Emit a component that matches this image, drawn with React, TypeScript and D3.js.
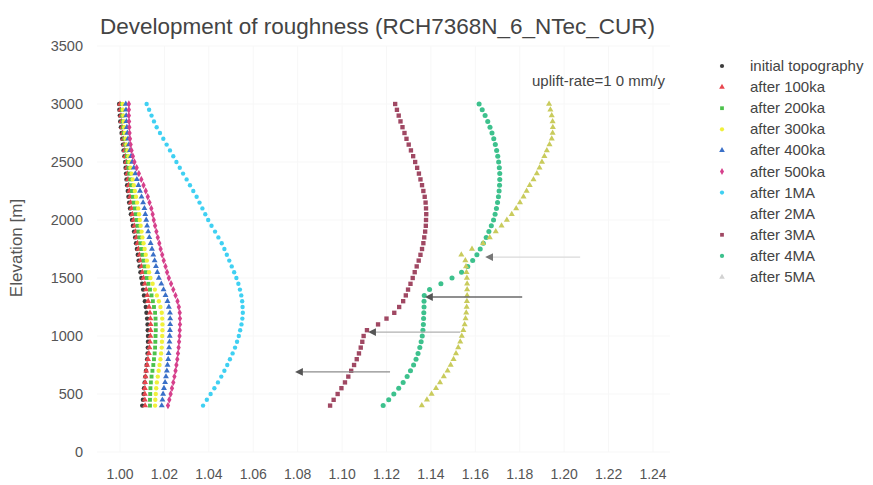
import React from 'react'
import * as d3 from 'd3'

// elevation levels of the profile [m]
const elevations = [
  400, 450, 500, 550, 600, 650, 700, 750, 800, 850, 900, 950, 1000, 1050, 1100, 1150, 1200, 1250,
  1300, 1350, 1400, 1450, 1500, 1550, 1600, 1650, 1700, 1750, 1800, 1850, 1900, 1950, 2000, 2050,
  2100, 2150, 2200, 2250, 2300, 2350, 2400, 2450, 2500, 2550, 2600, 2650, 2700, 2750, 2800, 2850,
  2900, 2950, 3000,
]

const initialTopo = [
  1.0100, 1.0103, 1.0106, 1.0108, 1.0111, 1.0114, 1.0117, 1.0120, 1.0122, 1.0124,
  1.0125, 1.0126, 1.0126, 1.0125, 1.0124, 1.0122, 1.0119, 1.0116, 1.0112, 1.0108,
  1.0104, 1.0100, 1.0096, 1.0092, 1.0088, 1.0084, 1.0080, 1.0076, 1.0072, 1.0068,
  1.0063, 1.0058, 1.0054, 1.0049, 1.0045, 1.0041, 1.0038, 1.0035, 1.0032, 1.0029,
  1.0027, 1.0025, 1.0023, 1.0020, 1.0016, 1.0013, 1.0010, 1.0007, 1.0004, 1.0001,
  0.9999, 0.9997, 0.9996,
]
const after100ka = [
  1.0113, 1.0112, 1.0112, 1.0112, 1.0113, 1.0115, 1.0118, 1.0122, 1.0126, 1.0130,
  1.0133, 1.0135, 1.0137, 1.0138, 1.0138, 1.0137, 1.0135, 1.0131, 1.0127, 1.0123,
  1.0118, 1.0112, 1.0106, 1.0101, 1.0097, 1.0092, 1.0088, 1.0083, 1.0079, 1.0074,
  1.0070, 1.0065, 1.0061, 1.0056, 1.0052, 1.0048, 1.0045, 1.0042, 1.0039, 1.0036,
  1.0033, 1.0030, 1.0028, 1.0024, 1.0021, 1.0018, 1.0015, 1.0012, 1.0009, 1.0006,
  1.0004, 1.0002, 1.0000,
]
const after200ka = [
  1.0135, 1.0135, 1.0136, 1.0137, 1.0139, 1.0142, 1.0146, 1.0150, 1.0153, 1.0156,
  1.0158, 1.0159, 1.0160, 1.0161, 1.0161, 1.0160, 1.0158, 1.0153, 1.0148, 1.0142,
  1.0135, 1.0128, 1.0121, 1.0116, 1.0111, 1.0106, 1.0101, 1.0096, 1.0092, 1.0087,
  1.0083, 1.0079, 1.0075, 1.0071, 1.0067, 1.0062, 1.0058, 1.0054, 1.0050, 1.0046,
  1.0042, 1.0038, 1.0035, 1.0031, 1.0028, 1.0024, 1.0020, 1.0017, 1.0014, 1.0012,
  1.0010, 1.0009, 1.0008,
]
const after300ka = [
  1.0158, 1.0159, 1.0161, 1.0163, 1.0166, 1.0170, 1.0174, 1.0178, 1.0182, 1.0185,
  1.0188, 1.0189, 1.0190, 1.0191, 1.0191, 1.0190, 1.0188, 1.0182, 1.0175, 1.0166,
  1.0157, 1.0147, 1.0137, 1.0131, 1.0126, 1.0121, 1.0116, 1.0111, 1.0106, 1.0101,
  1.0097, 1.0093, 1.0089, 1.0086, 1.0082, 1.0077, 1.0072, 1.0067, 1.0062, 1.0057,
  1.0052, 1.0047, 1.0042, 1.0038, 1.0034, 1.0029, 1.0025, 1.0022, 1.0019, 1.0017,
  1.0015, 1.0013, 1.0012,
]
const after400ka = [
  1.0188, 1.0191, 1.0194, 1.0198, 1.0203, 1.0207, 1.0211, 1.0214, 1.0217, 1.0219,
  1.0221, 1.0223, 1.0224, 1.0225, 1.0226, 1.0226, 1.0225, 1.0220, 1.0214, 1.0205,
  1.0196, 1.0186, 1.0175, 1.0168, 1.0162, 1.0156, 1.0150, 1.0144, 1.0138, 1.0132,
  1.0127, 1.0122, 1.0118, 1.0114, 1.0110, 1.0104, 1.0097, 1.0090, 1.0083, 1.0076,
  1.0069, 1.0062, 1.0055, 1.0050, 1.0045, 1.0040, 1.0036, 1.0033, 1.0031, 1.0029,
  1.0028, 1.0027, 1.0026,
]
const after500ka = [
  1.0216, 1.0222, 1.0228, 1.0234, 1.0240, 1.0245, 1.0250, 1.0254, 1.0258, 1.0261,
  1.0264, 1.0266, 1.0268, 1.0269, 1.0270, 1.0270, 1.0269, 1.0265, 1.0259, 1.0250,
  1.0240, 1.0230, 1.0220, 1.0212, 1.0205, 1.0197, 1.0190, 1.0183, 1.0177, 1.0170,
  1.0164, 1.0158, 1.0152, 1.0147, 1.0141, 1.0133, 1.0125, 1.0116, 1.0106, 1.0096,
  1.0085, 1.0075, 1.0065, 1.0058, 1.0052, 1.0048, 1.0045, 1.0043, 1.0042, 1.0041,
  1.0040, 1.0040, 1.0040,
]
const after1MA = [
  1.0374, 1.0391, 1.0408, 1.0425, 1.0441, 1.0456, 1.0470, 1.0483, 1.0495, 1.0507,
  1.0518, 1.0527, 1.0535, 1.0541, 1.0547, 1.0551, 1.0553, 1.0552, 1.0550, 1.0546,
  1.0540, 1.0533, 1.0524, 1.0514, 1.0503, 1.0492, 1.0481, 1.0470, 1.0458, 1.0443,
  1.0428, 1.0412, 1.0397, 1.0384, 1.0371, 1.0358, 1.0345, 1.0330, 1.0315, 1.0300,
  1.0284, 1.0269, 1.0254, 1.0240, 1.0225, 1.0210, 1.0195, 1.0180, 1.0165, 1.0153,
  1.0142, 1.0131, 1.0120,
]
const after2MA: number[] = []
const after3MA = [
  1.0946, 1.0962, 1.0980, 1.0997, 1.1013, 1.1028, 1.1041, 1.1054, 1.1066, 1.1076,
  1.1084, 1.1091, 1.1097, 1.1112, 1.1162, 1.1200, 1.1235, 1.1257, 1.1275, 1.1287,
  1.1297, 1.1308, 1.1318, 1.1327, 1.1336, 1.1345, 1.1353, 1.1360, 1.1366, 1.1370,
  1.1374, 1.1377, 1.1378, 1.1379, 1.1378, 1.1376, 1.1372, 1.1366, 1.1360, 1.1353,
  1.1346, 1.1338, 1.1329, 1.1320, 1.1310, 1.1300, 1.1290, 1.1281, 1.1272, 1.1263,
  1.1255, 1.1247, 1.1239,
]
const after4MA = [
  1.1185, 1.1210, 1.1233, 1.1255, 1.1275, 1.1293, 1.1308, 1.1322, 1.1333, 1.1342,
  1.1350, 1.1356, 1.1361, 1.1364, 1.1366, 1.1367, 1.1368, 1.1369, 1.1369, 1.1370,
  1.1394, 1.1445, 1.1495, 1.1538, 1.1566, 1.1588, 1.1607, 1.1622, 1.1636, 1.1649,
  1.1661, 1.1672, 1.1682, 1.1689, 1.1695, 1.1700, 1.1704, 1.1707, 1.1709, 1.1710,
  1.1710, 1.1708, 1.1705, 1.1701, 1.1696, 1.1690, 1.1683, 1.1675, 1.1666, 1.1656,
  1.1644, 1.1631, 1.1617,
]
const after5MA = [
  1.1359, 1.1382, 1.1403, 1.1423, 1.1441, 1.1458, 1.1475, 1.1489, 1.1502, 1.1513,
  1.1523, 1.1532, 1.1539, 1.1546, 1.1552, 1.1556, 1.1559, 1.1561, 1.1562, 1.1563,
  1.1563, 1.1563, 1.1562, 1.1560, 1.1558, 1.1555, 1.1537, 1.1585, 1.1635, 1.1665,
  1.1692, 1.1718, 1.1742, 1.1764, 1.1784, 1.1801, 1.1817, 1.1831, 1.1845, 1.1862,
  1.1877, 1.1889, 1.1900, 1.1911, 1.1922, 1.1934, 1.1944, 1.1948, 1.1949, 1.1948,
  1.1944, 1.1938, 1.1932,
]

const seriesNames = [
  'initial topography', 'after 100ka', 'after 200ka', 'after 300ka', 'after 400ka',
  'after 500ka', 'after 1MA', 'after 2MA', 'after 3MA', 'after 4MA', 'after 5MA',
]
const seriesValues = [
  initialTopo, after100ka, after200ka, after300ka, after400ka,
  after500ka, after1MA, after2MA, after3MA, after4MA, after5MA,
]
const seriesColors = [
  '#3c3c3c', '#e8474f', '#4cc24c', '#f0f03a', '#3a70c8',
  '#d6408c', '#3fd0f2', '#ffffff', '#a04863', '#3dc18d', '#c9cb5c',
]
const legendColors = [
  '#3c3c3c', '#e8474f', '#4cc24c', '#f0f03a', '#3a70c8',
  '#d6408c', '#3fd0f2', '#ffffff', '#a04863', '#3dc18d', '#d2d2d2',
]
const seriesSymbols = [
  d3.symbolCircle, d3.symbolTriangle, d3.symbolSquare, d3.symbolCircle, d3.symbolTriangle,
  d3.symbolDiamond, d3.symbolCircle, d3.symbolCircle, d3.symbolSquare, d3.symbolCircle, d3.symbolTriangle,
]
const seriesSizes = [15, 15, 15, 15, 15, 16, 15, 15, 19, 20, 16]

const xTicks = [1.0, 1.02, 1.04, 1.06, 1.08, 1.1, 1.12, 1.14, 1.16, 1.18, 1.2, 1.22, 1.24]
const yTicks = [0, 500, 1000, 1500, 2000, 2500, 3000, 3500]

// annotation arrows pointing left at the kinks
const arrowFrom = [1.2072, 1.1811, 1.1532, 1.1216]
const arrowTo = [1.1676, 1.1405, 1.1149, 1.0820]
const arrowElev = [1680, 1336, 1034, 690]
const arrowColors = ['#dadada', '#6a6a6a', '#b0b0b0', '#8c8c8c']

const font = 'Liberation Sans, Arial, sans-serif'

export default function App() {
  const x = d3.scaleLinear().domain([1.0, 1.24]).range([120, 653])
  const y = d3.scaleLinear().domain([0, 3500]).range([452, 46])

  return (
    <svg width={873} height={485} style={{ position: 'absolute', left: 0, top: 0, background: '#fff' }} fontFamily={font}>
      <defs>
        {arrowColors.map((c, i) => (
          <marker key={i} id={`ah${i}`} viewBox="0 0 10 10" refX="1" refY="5" markerWidth="6" markerHeight="6" orient="auto-start-reverse">
            <path d="M0,0 L10,5 L0,10 z" fill={i === 0 ? '#777' : '#555'} />
          </marker>
        ))}
      </defs>

      {/* faint grid */}
      {xTicks.map((t) => (
        <line key={`gx${t}`} x1={x(t)} x2={x(t)} y1={y(3500)} y2={y(0)} stroke="#f7f7f7" />
      ))}
      {yTicks.map((t) => (
        <line key={`gy${t}`} x1={97} x2={670} y1={y(t)} y2={y(t)} stroke="#f7f7f7" />
      ))}

      <text x={100} y={34} fontSize={21.5} fill="#444" textLength={555} lengthAdjust="spacingAndGlyphs">
        Development of roughness (RCH7368N_6_NTec_CUR)
      </text>
      <text x={665} y={86} fontSize={15} fill="#444" textAnchor="end">uplift-rate=1 0 mm/y</text>

      {yTicks.map((t) => (
        <text key={`yt${t}`} x={83} y={y(t) + 5} fontSize={14.5} fill="#555" textAnchor="end">{t}</text>
      ))}
      {xTicks.map((t) => (
        <text key={`xt${t}`} x={x(t)} y={479} fontSize={14} fill="#555" textAnchor="middle">{t.toFixed(2)}</text>
      ))}
      <text transform={`translate(22,248) rotate(-90)`} fontSize={17} fill="#555" textAnchor="middle">Elevation [m]</text>

      {seriesValues.map((vals, si) => {
        const p = d3.symbol().type(seriesSymbols[si]).size(seriesSizes[si])() as string
        return (
          <g key={seriesNames[si]} fill={seriesColors[si]}>
            {vals.map((v, i) => (
              <path key={i} d={p} transform={`translate(${x(v)},${y(elevations[i])})`} />
            ))}
          </g>
        )
      })}

      {arrowFrom.map((a, i) => (
        <line key={`ar${i}`} x1={x(a)} x2={x(arrowTo[i])} y1={y(arrowElev[i])} y2={y(arrowElev[i])}
          stroke={arrowColors[i]} strokeWidth={1.3} markerEnd={`url(#ah${i})`} />
      ))}

      {seriesNames.map((n, i) => {
        const ly = 66 + i * 21.1
        const p = d3.symbol().type(seriesSymbols[i]).size(14)() as string
        return (
          <g key={`lg${n}`}>
            <path d={p} transform={`translate(722,${ly})`} fill={legendColors[i]} />
            <text x={750} y={ly + 5} fontSize={15} fill="#444">{n}</text>
          </g>
        )
      })}
    </svg>
  )
}
